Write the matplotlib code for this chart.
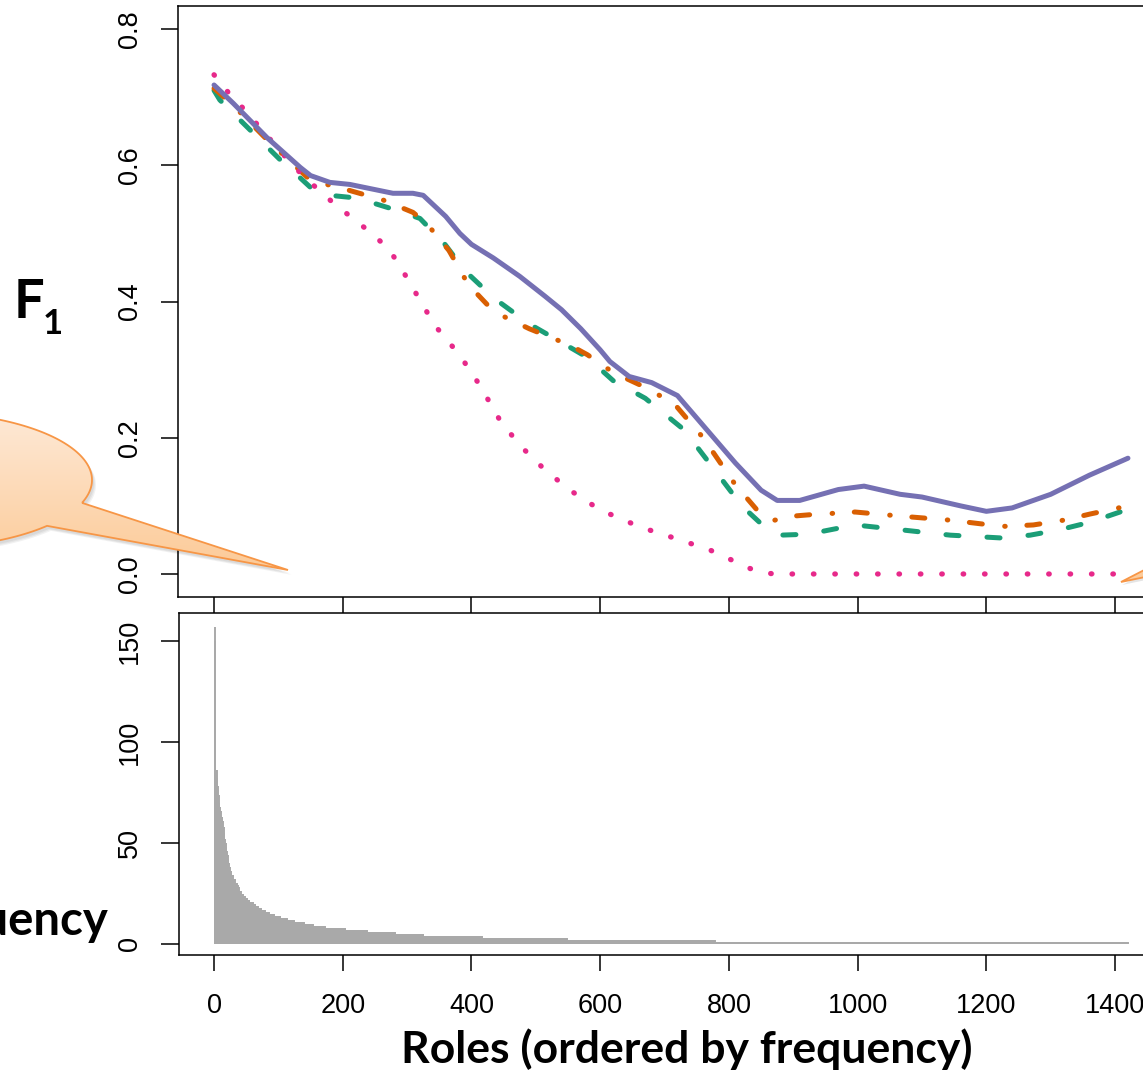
import numpy as np
import matplotlib
matplotlib.use("Agg")
import matplotlib.pyplot as plt
from matplotlib.patches import Polygon

plt.rcParams['font.family'] = ['Liberation Sans', 'DejaVu Sans']
plt.rcParams['lines.scale_dashes'] = False

# F1 curves per role rank (smoothed)
x_purple = [0, 30, 82, 134, 150, 180, 211, 278, 309, 325, 360, 382, 400, 434, 475, 514, 540,
            570, 600, 615, 645, 680, 720, 760, 810, 850, 875, 910, 970, 1010, 1066, 1100, 1160,
            1200, 1240, 1300, 1360, 1420]
y_purple = [.718, .691, .641, .597, .585, .575, .572, .559, .559, .556, .525, .500, .484, .464,
            .437, .408, .388, .360, .329, .312, .290, .281, .262, .218, .163, .123, .108, .108,
            .124, .129, .117, .113, .100, .092, .097, .117, .145, .170]

x_orange = [0, 30, 82, 134, 150, 200, 263, 309, 330, 365, 395, 435, 490, 553, 580, 620, 670,
            715, 760, 810, 850, 871, 900, 926, 996, 1066, 1144, 1206, 1229, 1273, 1320, 1361,
            1420]
y_orange = [.713, .688, .638, .592, .578, .566, .549, .531, .515, .475, .425, .385, .360, .336,
            .322, .296, .274, .250, .200, .131, .087, .079, .085, .087, .091, .085, .079, .072,
            .070, .072, .079, .088, .100]

x_green = [0, 9, 56, 103, 130, 154, 180, 222, 284, 320, 358, 390, 435, 490, 540, 580, 620, 670,
           730, 780, 820, 860, 879, 910, 942, 996, 1066, 1144, 1221, 1268, 1314, 1361, 1420]
y_green = [.710, .696, .652, .608, .585, .564, .556, .552, .534, .522, .485, .445, .405, .367,
           .340, .318, .284, .258, .212, .150, .100, .065, .057, .058, .062, .072, .065, .057,
           .053, .057, .065, .076, .095]

x_pink = [0, 23, 47, 115, 140, 191, 219, 246, 272, 297, 320, 343, 382, 413, 444, 475, 514, 553,
          600, 662, 724, 771, 810, 830, 848, 870, 900, 1000, 1100, 1200, 1300, 1420]
y_pink = [.733, .706, .682, .608, .583, .540, .520, .499, .477, .439, .402, .365, .321, .277,
          .226, .189, .153, .123, .094, .069, .050, .035, .018, .009, .003, 0, 0, 0, 0, 0, 0, 0]

# role frequencies, run-length encoded (value, number of roles)
freq_values = [157, 150, 86, 82, 78, 74, 70, 68, 66, 63, 61, 58, 55, 52, 50, 48, 46, 44, 42, 40,
               38, 36, 34, 32, 30, 29, 28, 26, 25, 24, 23, 22, 21, 20, 19, 18, 17, 16, 15, 14,
               13, 12, 11, 10, 9, 8, 7, 6, 5, 4, 3, 2, 1]
freq_runs = [1, 1, 2, 1, 1, 1, 1, 1, 2, 2, 1, 1, 1, 1, 1, 1, 1, 1, 1, 1,
             2, 2, 2, 3, 3, 2, 2, 3, 3, 3, 3, 4, 5, 4, 4, 5, 6, 6, 8, 10,
             10, 11, 16, 14, 18, 32, 33, 44, 44, 91, 132, 230, 642]

f1_yticks = [0.0, 0.2, 0.4, 0.6, 0.8]
freq_yticks = [0, 50, 100, 150]
role_ticks = [0, 200, 400, 600, 800, 1000, 1200, 1400]

W, H = 1143, 1075
fig = plt.figure(figsize=(W / 100, H / 100), dpi=100)

ax1 = fig.add_axes([178 / W, 1 - 597 / H, 986 / W, 591 / H])
ax2 = fig.add_axes([179 / W, 1 - 955 / H, 985 / W, 342 / H])

lw = 3.6
ax1.plot(x_green, y_green, color='#1B9E77', lw=lw, dashes=(9.4, 20.2),
         dash_capstyle='round', dash_joinstyle='round')
ax1.plot(x_orange, y_orange, color='#D95F02', lw=lw, dashes=(9.4, 16.2, 0.4, 15.6),
         dash_capstyle='round', dash_joinstyle='round')
ax1.plot(x_pink, y_pink, color='#E7298A', lw=3.8, dashes=(0.4, 15.0), dash_capstyle='round')
ax1.plot(x_purple, y_purple, color='#7570B3', lw=lw, solid_capstyle='round',
         solid_joinstyle='round')

ax1.set_xlim(-56, 1476)
ax1.set_ylim(-0.0338, 0.834)
ax1.set_xticks(role_ticks)
ax1.set_yticks(f1_yticks)
ax1.set_yticklabels([f"{v:.1f}" for v in f1_yticks])
ax1.tick_params(axis='x', direction='out', length=11.5, width=1.1, labelbottom=False)
ax1.tick_params(axis='y', direction='out', length=12.2, width=1.1, labelsize=19.5, pad=13)

freq = np.repeat(freq_values, freq_runs)
roles = np.arange(1, len(freq) + 1)
ax2.vlines(roles, 0, freq, color='#A9A9A9', lw=1.4)
ax2.set_xlim(-54.4, 1476)
ax2.set_ylim(-5.45, 163.9)
ax2.set_xticks(role_ticks)
ax2.set_yticks(freq_yticks)
ax2.tick_params(axis='x', direction='out', length=11.5, width=1.1, labelsize=19.5, pad=16)
ax2.tick_params(axis='y', direction='out', length=12.8, width=1.1, labelsize=19.5, pad=13)

for ax in (ax1, ax2):
    for sp in ax.spines.values():
        sp.set_linewidth(1.1)
    for lbl in ax.get_yticklabels():
        lbl.set_rotation(90)
        lbl.set_va('center')

# overlay in pixel coordinates for labels and callouts
ov = fig.add_axes([0, 0, 1, 1], zorder=10)
ov.set_xlim(0, W)
ov.set_ylim(H, 0)
ov.axis('off')
ov.patch.set_alpha(0)

# speech bubble: ellipse body with a tail
cx, cy, a, b = -80, 480, 172, 68
t = np.linspace(0.343, 0.74 - 2 * np.pi, 200)
body = np.column_stack([cx + a * np.cos(t), cy + b * np.sin(t)])
bubble = np.vstack([body, [[288, 570]]])

for k, al in enumerate([0.05, 0.05, 0.05]):
    ov.add_patch(Polygon(bubble + [2 + k, 3 + k], closed=True, facecolor='black',
                         edgecolor='none', alpha=al))
shape = Polygon(bubble, closed=True, facecolor='none', edgecolor='#F79646', lw=1.3)
ov.add_patch(shape)
grad = np.linspace(0, 1, 256)[:, None]
cmap = matplotlib.colors.LinearSegmentedColormap.from_list('peach', ['#FEEBDA', '#FCC995'])
img = ov.imshow(grad, cmap=cmap, extent=(-260, 300, 575, 405), aspect='auto', zorder=1)
img.set_clip_path(shape)
shape.set_zorder(2)

tip = np.array([[1121, 582], [1150, 567], [1150, 576]])
ov.add_patch(Polygon(tip + [1, 3], closed=True, facecolor='black', edgecolor='none', alpha=0.1))
ov.add_patch(Polygon(tip, closed=True, facecolor='#FCCB9A', edgecolor='#F79646', lw=1.3))

bold = dict(family=['Lato', 'DejaVu Sans'], fontweight='bold', color='black')
ov.text(14, 318, 'F', fontsize=39, ha='left', va='baseline', **bold)
ov.text(43, 334, '1', fontsize=25, ha='left', va='baseline', **bold)
ov.text(108, 935, 'Frequency', fontsize=34, ha='right', va='baseline', **bold)
ov.text(687, 1063, 'Roles (ordered by frequency)', fontsize=32, ha='center', va='baseline', **bold)

fig.savefig('out.png', dpi=100)
